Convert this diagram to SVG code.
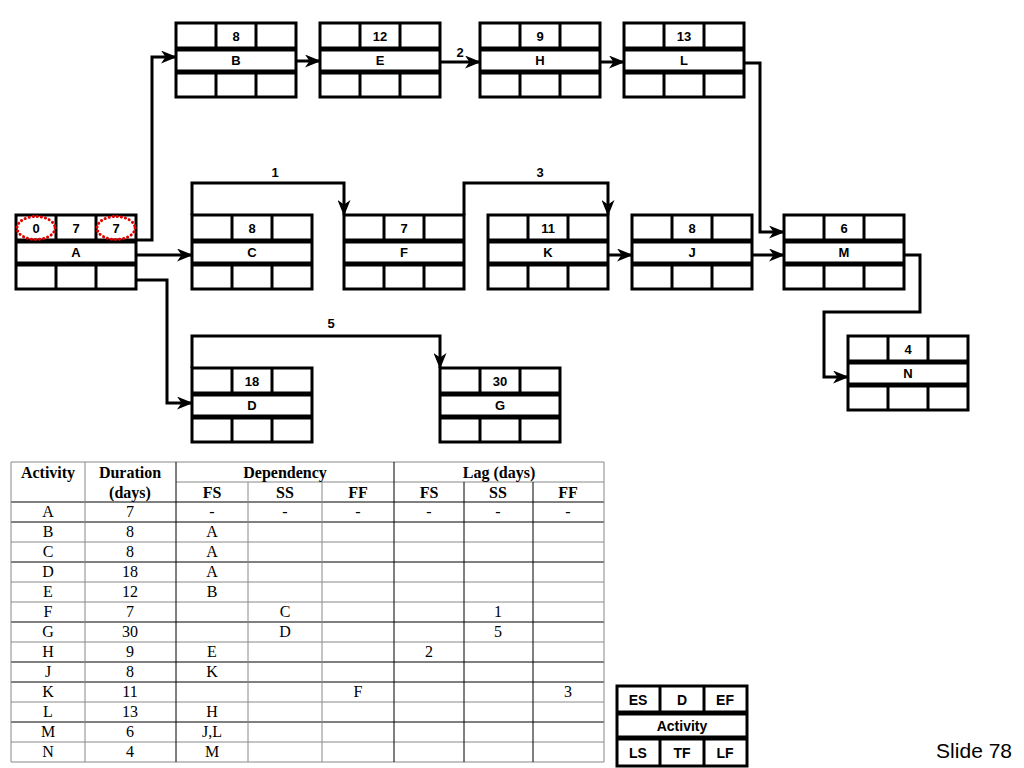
<svg xmlns="http://www.w3.org/2000/svg" xmlns:xlink="http://www.w3.org/1999/xlink" width="1024" height="768" viewBox="0 0 1024 768">
<style>
.nt{font-family:"Liberation Sans",Arial,sans-serif;font-size:13px;font-weight:bold;text-anchor:middle;fill:#000}
.lg{font-family:"Liberation Sans",Arial,sans-serif;font-size:14px;font-weight:bold;text-anchor:middle;fill:#000}
.tt{font-family:"Liberation Serif","Times New Roman",serif;font-size:16px;text-anchor:middle;fill:#000}
.th{font-family:"Liberation Serif","Times New Roman",serif;font-size:16px;font-weight:bold;text-anchor:middle;fill:#000}
.conn{fill:none;stroke:#000;stroke-width:3;stroke-linejoin:miter}
.bx{fill:#fff;stroke:#000;stroke-width:3}
.thk{stroke:#000;stroke-width:5}
.thn{stroke:#000;stroke-width:3}
.gk{stroke:#000;stroke-width:1}
.gg{stroke:#888;stroke-width:1}
.sel{fill:none;stroke:#e00000;stroke-width:3;stroke-dasharray:0.1 4;stroke-linecap:round}
</style>
<defs>
<marker id="arr" viewBox="0 0 16 13" refX="15" refY="6.5" markerWidth="16" markerHeight="13" markerUnits="userSpaceOnUse" orient="auto">
<path d="M0,0 L16,6.5 L0,13 L4.5,6.5 z" fill="#000"/>
</marker>
<g id="box">
<rect class="bx" x="0" y="0" width="120" height="74"/>
<line class="thk" x1="0" y1="26" x2="120" y2="26"/>
<line class="thk" x1="0" y1="49" x2="120" y2="49"/>
<line class="thn" x1="40" y1="0" x2="40" y2="26"/>
<line class="thn" x1="80" y1="0" x2="80" y2="26"/>
<line class="thn" x1="40" y1="49" x2="40" y2="74"/>
<line class="thn" x1="80" y1="49" x2="80" y2="74"/>
</g>
</defs>
<rect width="1024" height="768" fill="#fff"/>

<g id="connectors">
<path class="conn" d="M136,240 H152 V57 H176" marker-end="url(#arr)"/>
<path class="conn" d="M296,61 H320" marker-end="url(#arr)"/>
<path class="conn" d="M440,62 H480" marker-end="url(#arr)"/>
<path class="conn" d="M600,62 H624" marker-end="url(#arr)"/>
<path class="conn" d="M744,63 H760 V232 H784" marker-end="url(#arr)"/>
<path class="conn" d="M136,255 H192" marker-end="url(#arr)"/>
<path class="conn" d="M136,280 H167 V403 H192" marker-end="url(#arr)"/>
<path class="conn" d="M192,215 V183 H344 V215" marker-end="url(#arr)"/>
<path class="conn" d="M464,215 V183 H608 V215" marker-end="url(#arr)"/>
<path class="conn" d="M608,255 H632" marker-end="url(#arr)"/>
<path class="conn" d="M752,255 H784" marker-end="url(#arr)"/>
<path class="conn" d="M904,255 H920 V312 H824 V377 H848" marker-end="url(#arr)"/>
<path class="conn" d="M192,368 V336 H440 V368" marker-end="url(#arr)"/>
<text class="nt" x="460" y="57">2</text>
<text class="nt" x="275" y="177">1</text>
<text class="nt" x="540" y="177">3</text>
<text class="nt" x="331" y="328">5</text>
</g>

<g id="node-A" transform="translate(16,215)">
<use xlink:href="#box"/>
<text class="nt" x="20" y="18">0</text>
<text class="nt" x="60" y="18">7</text>
<text class="nt" x="100" y="18">7</text>
<text class="nt" x="60" y="42">A</text>
<ellipse class="sel" cx="20" cy="13" rx="19" ry="11.5"/>
<ellipse class="sel" cx="100" cy="13" rx="19" ry="11.5"/>
</g>
<g id="node-B" transform="translate(176,23)">
<use xlink:href="#box"/>
<text class="nt" x="60" y="18">8</text>
<text class="nt" x="60" y="42">B</text>
</g>
<g id="node-E" transform="translate(320,23)">
<use xlink:href="#box"/>
<text class="nt" x="60" y="18">12</text>
<text class="nt" x="60" y="42">E</text>
</g>
<g id="node-H" transform="translate(480,23)">
<use xlink:href="#box"/>
<text class="nt" x="60" y="18">9</text>
<text class="nt" x="60" y="42">H</text>
</g>
<g id="node-L" transform="translate(624,23)">
<use xlink:href="#box"/>
<text class="nt" x="60" y="18">13</text>
<text class="nt" x="60" y="42">L</text>
</g>
<g id="node-C" transform="translate(192,215)">
<use xlink:href="#box"/>
<text class="nt" x="60" y="18">8</text>
<text class="nt" x="60" y="42">C</text>
</g>
<g id="node-F" transform="translate(344,215)">
<use xlink:href="#box"/>
<text class="nt" x="60" y="18">7</text>
<text class="nt" x="60" y="42">F</text>
</g>
<g id="node-K" transform="translate(488,215)">
<use xlink:href="#box"/>
<text class="nt" x="60" y="18">11</text>
<text class="nt" x="60" y="42">K</text>
</g>
<g id="node-J" transform="translate(632,215)">
<use xlink:href="#box"/>
<text class="nt" x="60" y="18">8</text>
<text class="nt" x="60" y="42">J</text>
</g>
<g id="node-M" transform="translate(784,215)">
<use xlink:href="#box"/>
<text class="nt" x="60" y="18">6</text>
<text class="nt" x="60" y="42">M</text>
</g>
<g id="node-N" transform="translate(848,336)">
<use xlink:href="#box"/>
<text class="nt" x="60" y="18">4</text>
<text class="nt" x="60" y="42">N</text>
</g>
<g id="node-D" transform="translate(192,368)">
<use xlink:href="#box"/>
<text class="nt" x="60" y="18">18</text>
<text class="nt" x="60" y="42">D</text>
</g>
<g id="node-G" transform="translate(440,368)">
<use xlink:href="#box"/>
<text class="nt" x="60" y="18">30</text>
<text class="nt" x="60" y="42">G</text>
</g>

<g id="table">
<rect x="11" y="462" width="593" height="300" fill="#fff"/>
<line class="gg" x1="11" y1="462" x2="604" y2="462"/>
<line class="gg" x1="176" y1="482" x2="604" y2="482"/>
<line class="gk" x1="11" y1="502" x2="604" y2="502"/>
<line class="gk" x1="11" y1="522" x2="604" y2="522"/>
<line class="gg" x1="11" y1="542" x2="604" y2="542"/>
<line class="gk" x1="11" y1="562" x2="604" y2="562"/>
<line class="gg" x1="11" y1="582" x2="604" y2="582"/>
<line class="gg" x1="11" y1="602" x2="604" y2="602"/>
<line class="gk" x1="11" y1="622" x2="604" y2="622"/>
<line class="gg" x1="11" y1="642" x2="604" y2="642"/>
<line class="gk" x1="11" y1="662" x2="604" y2="662"/>
<line class="gk" x1="11" y1="682" x2="604" y2="682"/>
<line class="gg" x1="11" y1="702" x2="604" y2="702"/>
<line class="gk" x1="11" y1="722" x2="604" y2="722"/>
<line class="gg" x1="11" y1="742" x2="604" y2="742"/>
<line class="gg" x1="11" y1="762" x2="604" y2="762"/>
<line class="gg" x1="11" y1="462" x2="11" y2="762"/>
<line class="gg" x1="85" y1="462" x2="85" y2="762"/>
<line class="gk" x1="176" y1="462" x2="176" y2="762"/>
<line class="gg" x1="248" y1="482" x2="248" y2="762"/>
<line class="gg" x1="322" y1="482" x2="322" y2="762"/>
<line class="gk" x1="394" y1="462" x2="394" y2="762"/>
<line class="gk" x1="464" y1="482" x2="464" y2="762"/>
<line class="gk" x1="533" y1="482" x2="533" y2="762"/>
<line class="gg" x1="604" y1="462" x2="604" y2="762"/>

<text class="th" x="48" y="478">Activity</text>
<text class="th" x="130" y="478">Duration</text>
<text class="th" x="130" y="498">(days)</text>
<text class="th" x="285" y="478">Dependency</text>
<text class="th" x="499" y="478">Lag (days)</text>
<text class="th" x="212" y="498">FS</text>
<text class="th" x="285" y="498">SS</text>
<text class="th" x="358" y="498">FF</text>
<text class="th" x="429" y="498">FS</text>
<text class="th" x="498" y="498">SS</text>
<text class="th" x="568" y="498">FF</text>

<text class="tt" x="48" y="517">A</text><text class="tt" x="130" y="517">7</text>
<text class="tt" x="212" y="517">-</text><text class="tt" x="285" y="517">-</text><text class="tt" x="358" y="517">-</text>
<text class="tt" x="429" y="517">-</text><text class="tt" x="498" y="517">-</text><text class="tt" x="568" y="517">-</text>
<text class="tt" x="48" y="537">B</text><text class="tt" x="130" y="537">8</text><text class="tt" x="212" y="537">A</text>
<text class="tt" x="48" y="557">C</text><text class="tt" x="130" y="557">8</text><text class="tt" x="212" y="557">A</text>
<text class="tt" x="48" y="577">D</text><text class="tt" x="130" y="577">18</text><text class="tt" x="212" y="577">A</text>
<text class="tt" x="48" y="597">E</text><text class="tt" x="130" y="597">12</text><text class="tt" x="212" y="597">B</text>
<text class="tt" x="48" y="617">F</text><text class="tt" x="130" y="617">7</text><text class="tt" x="285" y="617">C</text><text class="tt" x="498" y="617">1</text>
<text class="tt" x="48" y="637">G</text><text class="tt" x="130" y="637">30</text><text class="tt" x="285" y="637">D</text><text class="tt" x="498" y="637">5</text>
<text class="tt" x="48" y="657">H</text><text class="tt" x="130" y="657">9</text><text class="tt" x="212" y="657">E</text><text class="tt" x="429" y="657">2</text>
<text class="tt" x="48" y="677">J</text><text class="tt" x="130" y="677">8</text><text class="tt" x="212" y="677">K</text>
<text class="tt" x="48" y="697">K</text><text class="tt" x="130" y="697">11</text><text class="tt" x="358" y="697">F</text><text class="tt" x="568" y="697">3</text>
<text class="tt" x="48" y="717">L</text><text class="tt" x="130" y="717">13</text><text class="tt" x="212" y="717">H</text>
<text class="tt" x="48" y="737">M</text><text class="tt" x="130" y="737">6</text><text class="tt" x="212" y="737">J,L</text>
<text class="tt" x="48" y="757">N</text><text class="tt" x="130" y="757">4</text><text class="tt" x="212" y="757">M</text>
</g>

<g id="legend">
<rect class="bx" x="617" y="686" width="130" height="80"/>
<line class="thk" x1="617" y1="713" x2="747" y2="713"/>
<line class="thk" x1="617" y1="738" x2="747" y2="738"/>
<line class="thn" x1="660" y1="686" x2="660" y2="713"/>
<line class="thn" x1="704" y1="686" x2="704" y2="713"/>
<line class="thn" x1="660" y1="738" x2="660" y2="766"/>
<line class="thn" x1="704" y1="738" x2="704" y2="766"/>
<text class="lg" x="638" y="705">ES</text>
<text class="lg" x="682" y="705">D</text>
<text class="lg" x="725" y="705">EF</text>
<text class="lg" x="682" y="731">Activity</text>
<text class="lg" x="638" y="758">LS</text>
<text class="lg" x="682" y="758">TF</text>
<text class="lg" x="725" y="758">LF</text>
</g>

<text x="1012" y="758" font-family="'Liberation Sans',Arial,sans-serif" font-size="21" text-anchor="end" fill="#000">Slide 78</text>
</svg>
